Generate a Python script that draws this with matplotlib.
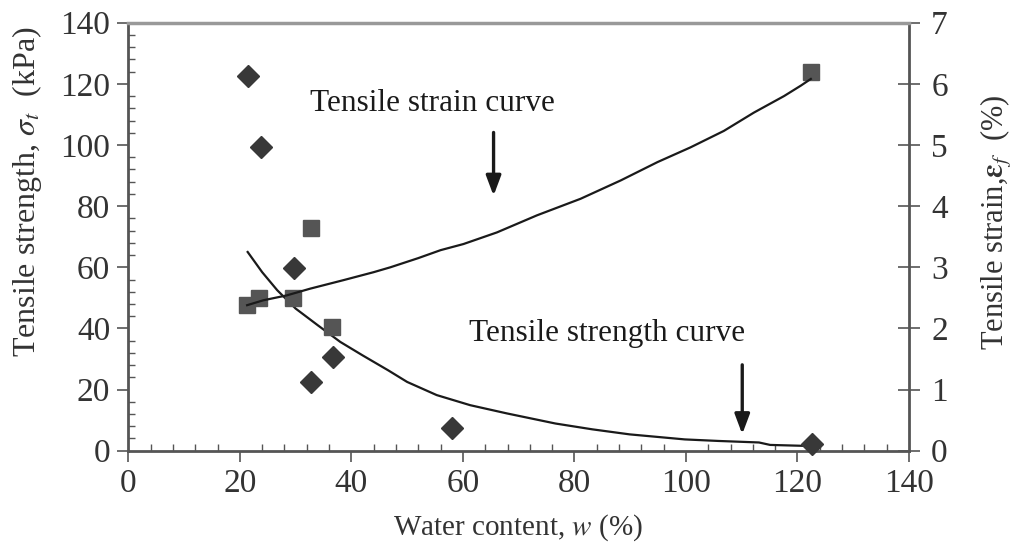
import numpy as np
import matplotlib.pyplot as plt
from matplotlib.ticker import MultipleLocator

plt.rcParams['font.family'] = ['Liberation Serif', 'DejaVu Serif']
plt.rcParams['mathtext.fontset'] = 'stix'

# measured points: tensile strength (kPa, left axis)
w_strength = [21.5, 23.8, 29.7, 32.8, 36.7, 58.1, 122.6]
sigma_t = [122.4, 99.2, 59.7, 22.5, 30.7, 7.5, 2.2]

# measured points: tensile strain (%, right axis)
w_strain = [21.3, 23.5, 29.6, 32.8, 36.5, 122.4]
eps_f = [2.38, 2.50, 2.50, 3.65, 2.02, 6.19]

# fitted curves
w_strain_curve = [21.3, 24.2, 28.4, 32.6, 38.6, 44.0, 47.0, 52.0, 56.0, 60.1,
                  66.1, 73.3, 81.1, 88.3, 94.9, 100.8, 106.8, 112.2, 117.6,
                  120.6, 122.4]
strain_curve = [2.38, 2.46, 2.54, 2.65, 2.79, 2.92, 3.00, 3.15, 3.28, 3.38,
                3.57, 3.85, 4.12, 4.42, 4.72, 4.96, 5.23, 5.53, 5.80,
                5.97, 6.08]
w_strength_curve = [21.4, 24.0, 26.7, 30.0, 34.0, 38.0, 42.0, 46.6, 50.0,
                    55.3, 61.3, 67.9, 76.6, 83.2, 89.9, 99.8, 105.8, 113.1,
                    115.1, 121.1, 122.4]
strength_curve = [65.0, 58.4, 52.5, 46.5, 41.0, 35.6, 31.2, 26.3, 22.5,
                  18.2, 14.9, 12.2, 8.9, 7.0, 5.35, 3.7, 3.2, 2.7,
                  1.9, 1.6, 1.6]

fig = plt.figure(figsize=(10.13, 5.49), dpi=100)
ax = fig.add_axes([0.1267, 0.179, 0.7706, 0.7797])
ax2 = ax.twinx()

spine_col = '#555555'
txt_col = '#333333'
tick_fs = 24

# curves and points
ax.plot(w_strength_curve, strength_curve, color='#1a1a1a', lw=1.6, zorder=3)
ax2.plot(w_strain_curve, strain_curve, color='#1a1a1a', lw=1.6, zorder=3)
ax.plot(w_strength, sigma_t, linestyle='none', marker='D', ms=11,
        color='#383838', zorder=4, clip_on=False)
ax2.plot(w_strain, eps_f, linestyle='none', marker='s', ms=11,
         color='#555555', zorder=2, clip_on=False)

ax.set_xlim(0, 140)
ax.set_ylim(0, 140)
ax2.set_ylim(0, 7)

ax.xaxis.set_major_locator(MultipleLocator(20))
ax.xaxis.set_minor_locator(MultipleLocator(4))
ax.yaxis.set_major_locator(MultipleLocator(20))
ax.yaxis.set_minor_locator(MultipleLocator(4))
ax2.yaxis.set_major_locator(MultipleLocator(1))

ax.tick_params(axis='both', which='major', direction='out', length=8,
               width=1.2, color=spine_col, labelsize=tick_fs, labelcolor=txt_col,
               top=False, right=False, pad=5)
ax.tick_params(axis='both', which='minor', direction='in', length=5,
               width=1.0, color=spine_col, top=False, right=False)
ax2.tick_params(axis='y', which='major', direction='inout', length=16,
                width=1.2, color=spine_col, labelsize=tick_fs,
                labelcolor=txt_col, pad=8)

for s in ['left', 'bottom']:
    ax.spines[s].set_color(spine_col)
    ax.spines[s].set_linewidth(2)
ax2.spines['right'].set_color(spine_col)
ax2.spines['right'].set_linewidth(2)
ax2.spines['top'].set_color('#999999')
ax2.spines['top'].set_linewidth(2.5)
ax.spines['top'].set_visible(False)
ax.spines['right'].set_visible(False)
ax2.spines['left'].set_visible(False)
ax2.spines['bottom'].set_visible(False)

ax.set_xlabel(r'Water content, $w$ (%)', fontsize=21, color=txt_col)
ax.xaxis.set_label_coords(0.499, -0.143)
ax.set_ylabel(r'Tensile strength, $\sigma_t$  (kPa)', fontsize=23,
              color=txt_col)
ax.yaxis.set_label_coords(-0.108, 0.606)
ax2.set_ylabel(r'Tensile strain,$\mathbf{\varepsilon}_f$  (%)', fontsize=22,
               color=txt_col)
ax2.yaxis.set_label_coords(1.0897, 0.534)

# annotations
arrow_style = dict(arrowstyle='-|>,head_width=0.45,head_length=1.2',
                   color='#1a1a1a', lw=2.4)
ax.text(54.5, 113.5, 'Tensile strain curve', fontsize=22.5, color='#1a1a1a',
        ha='center', va='center')
ax.annotate('', xy=(65.5, 82.5), xytext=(65.5, 105), arrowprops=arrow_style)
ax.text(85.9, 38.4, 'Tensile strength curve', fontsize=22.5, color='#1a1a1a',
        ha='center', va='center')
ax.annotate('', xy=(110.1, 4.5), xytext=(110.1, 29), arrowprops=arrow_style)

fig.savefig('out.png', dpi=100)
